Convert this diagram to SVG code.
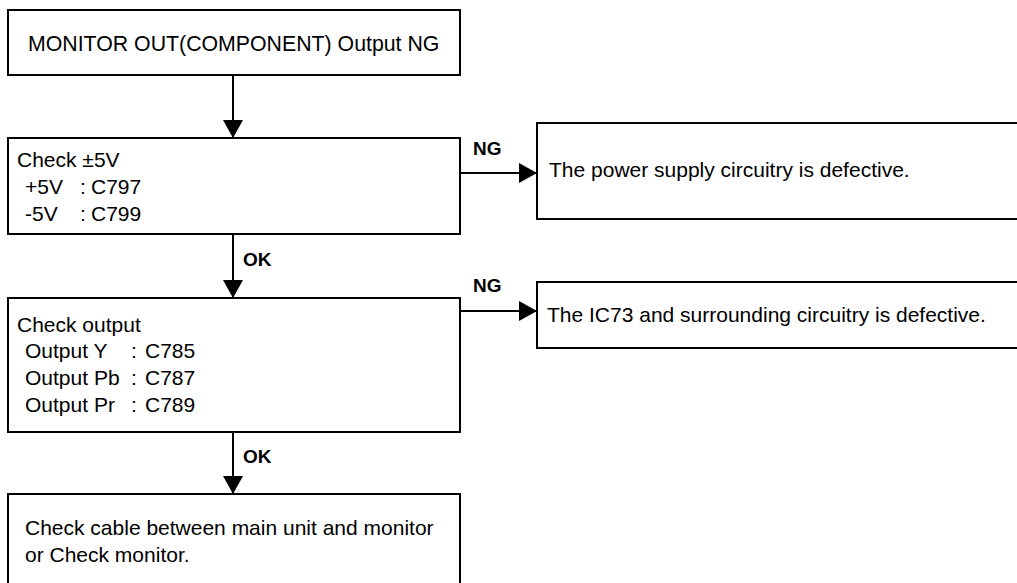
<svg xmlns="http://www.w3.org/2000/svg" width="1017" height="583" viewBox="0 0 1017 583">
<style>
.box{fill:#fff;stroke:#000;stroke-width:2}
.t{font-family:"Liberation Sans",Arial,sans-serif;font-size:21px;fill:#000}
.title{font-size:21.3px}
.lbl{font-family:"Liberation Sans",Arial,sans-serif;font-size:19px;font-weight:bold;fill:#000}
.c{stroke:#000;stroke-width:2;fill:none}
</style>
<defs>
<marker id="ah" markerUnits="userSpaceOnUse" markerWidth="19" markerHeight="20" refX="18" refY="10" orient="auto">
<path d="M0,0 L18,10 L0,20 Z" fill="#000"/>
</marker>
</defs>
<rect width="1017" height="583" fill="#fff"/>
<g id="connectors">
<line class="c" x1="233" y1="75" x2="233" y2="138" marker-end="url(#ah)"/>
<line class="c" x1="233" y1="234" x2="233" y2="298" marker-end="url(#ah)"/>
<line class="c" x1="233" y1="432" x2="233" y2="494" marker-end="url(#ah)"/>
<line class="c" x1="460" y1="173" x2="537" y2="173" marker-end="url(#ah)"/>
<line class="c" x1="460" y1="311" x2="537" y2="311" marker-end="url(#ah)"/>
<text class="lbl" x="243" y="266">OK</text>
<text class="lbl" x="243" y="463">OK</text>
<text class="lbl" x="473" y="155">NG</text>
<text class="lbl" x="473" y="292">NG</text>
</g>
<g id="n1">
<rect class="box" x="8" y="10" width="452" height="65"/>
<text class="t title" x="28" y="51">MONITOR OUT(COMPONENT) Output NG</text>
</g>
<g id="n2">
<rect class="box" x="8" y="138" width="452" height="96"/>
<text class="t" x="17" y="167">Check ±5V</text>
<text class="t" x="25" y="194">+5V</text>
<text class="t" x="80" y="194">:</text>
<text class="t" x="91" y="194">C797</text>
<text class="t" x="25" y="221">-5V</text>
<text class="t" x="80" y="221">:</text>
<text class="t" x="91" y="221">C799</text>
</g>
<g id="n3">
<rect class="box" x="8" y="298" width="452" height="134"/>
<text class="t" x="17" y="332">Check output</text>
<text class="t" x="25" y="358">Output Y</text>
<text class="t" x="131" y="358">:</text>
<text class="t" x="145" y="358">C785</text>
<text class="t" x="25" y="385">Output Pb</text>
<text class="t" x="131" y="385">:</text>
<text class="t" x="145" y="385">C787</text>
<text class="t" x="25" y="412">Output Pr</text>
<text class="t" x="131" y="412">:</text>
<text class="t" x="145" y="412">C789</text>
</g>
<g id="n4">
<rect class="box" x="8" y="494" width="452" height="100"/>
<text class="t" x="25" y="535">Check cable between main unit and monitor</text>
<text class="t" x="25" y="562">or Check monitor.</text>
</g>
<g id="n5">
<rect class="box" x="537" y="123" width="500" height="96"/>
<text class="t" x="549" y="177">The power supply circuitry is defective.</text>
</g>
<g id="n6">
<rect class="box" x="537" y="282" width="500" height="66"/>
<text class="t" x="547" y="322">The IC73 and surrounding circuitry is defective.</text>
</g>
</svg>
